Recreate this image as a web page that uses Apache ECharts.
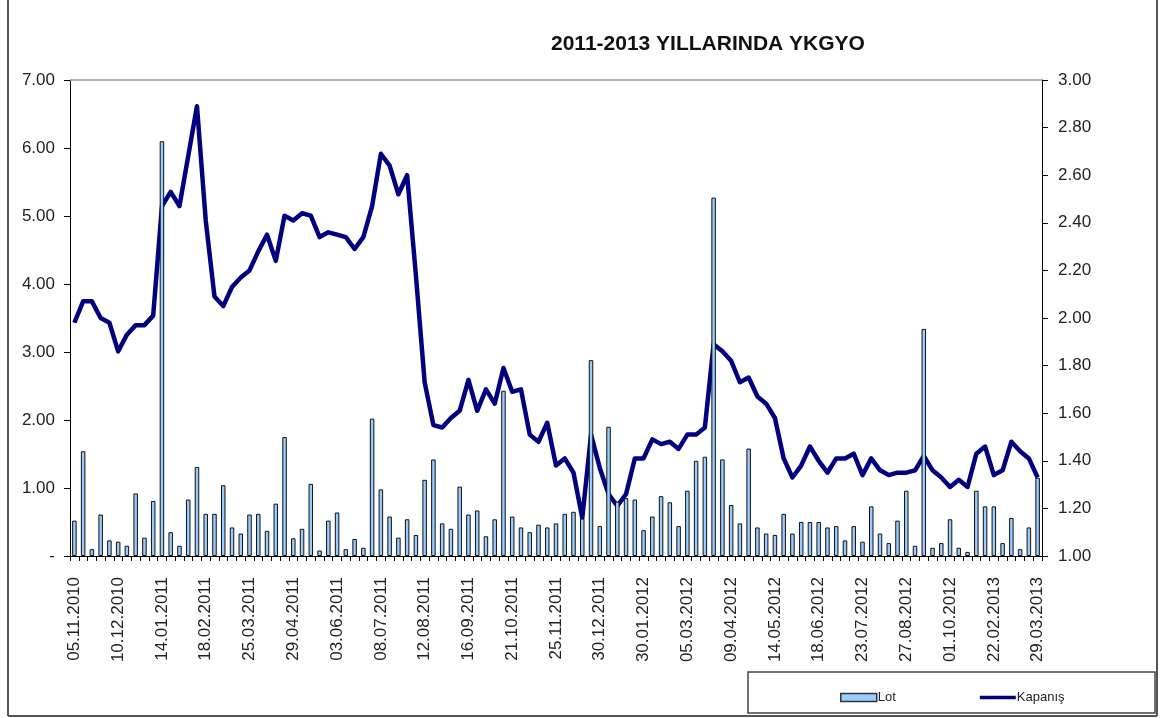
<!DOCTYPE html>
<html>
<head>
<meta charset="utf-8">
<script src="https://cdn.jsdelivr.net/npm/echarts@6/dist/echarts.min.js"></script>
<style>
  html, body { margin: 0; padding: 0; background: #fff; }
  #chart { width: 1166px; height: 718px; }
</style>
</head>
<body>
<div id="chart"></div>
<script>
// weekly dates, three runs (the source skips some weeks)
function weekly(d, m, y, n) {
  var out = [];
  var t0 = Date.UTC(y, m - 1, d);
  for (var i = 0; i < n; i++) {
    var dt = new Date(t0 + i * 7 * 86400000);
    var dd = ('0' + dt.getUTCDate()).slice(-2);
    var mm = ('0' + (dt.getUTCMonth() + 1)).slice(-2);
    out.push(dd + '.' + mm + '.' + dt.getUTCFullYear());
  }
  return out;
}
const dates = [].concat(
  weekly(5, 11, 2010, 61),
  weekly(2, 1, 2012, 40),
  weekly(25, 1, 2013, 10)
);

// Lot (left axis)
const lot = [
  0.52, 1.54, 0.10, 0.61, 0.23, 0.21, 0.15, 0.92, 0.27, 0.81,
  6.10, 0.35, 0.15, 0.83, 1.31, 0.62, 0.62, 1.04, 0.42, 0.33,
  0.61, 0.62, 0.37, 0.77, 1.75, 0.26, 0.40, 1.06, 0.08, 0.52,
  0.64, 0.10, 0.25, 0.12, 2.02, 0.98, 0.58, 0.27, 0.54, 0.31,
  1.12, 1.42, 0.48, 0.40, 1.02, 0.61, 0.67, 0.29, 0.54, 2.43,
  0.58, 0.42, 0.35, 0.46, 0.42, 0.48, 0.62, 0.65, 0.55, 2.88,
  0.44, 1.90, 0.80, 0.85, 0.83, 0.38, 0.58, 0.88, 0.79, 0.44,
  0.96, 1.40, 1.46, 5.27, 1.42, 0.75, 0.48, 1.58, 0.42, 0.33,
  0.31, 0.62, 0.33, 0.50, 0.50, 0.50, 0.42, 0.44, 0.23, 0.44,
  0.21, 0.73, 0.33, 0.19, 0.52, 0.96, 0.15, 3.34, 0.12, 0.19,
  0.54, 0.12, 0.06, 0.96, 0.73, 0.73, 0.19, 0.56, 0.10, 0.42,
  1.15
];

// Kapanış (right axis)
const kapanis = [
  1.98, 2.07, 2.07, 2.00, 1.98, 1.86, 1.93, 1.97, 1.97, 2.01,
  2.47, 2.53, 2.47, 2.68, 2.89, 2.41, 2.09, 2.05, 2.13, 2.17,
  2.20, 2.28, 2.35, 2.24, 2.43, 2.41, 2.44, 2.43, 2.34, 2.36,
  2.35, 2.34, 2.29, 2.34, 2.47, 2.69, 2.64, 2.52, 2.60, 2.18,
  1.73, 1.55, 1.54, 1.58, 1.61, 1.74, 1.61, 1.70, 1.64, 1.79,
  1.69, 1.70, 1.51, 1.48, 1.56, 1.38, 1.41, 1.35, 1.16, 1.51,
  1.37, 1.26, 1.21, 1.26, 1.41, 1.41, 1.49, 1.47, 1.48, 1.45,
  1.51, 1.51, 1.54, 1.89, 1.86, 1.82, 1.73, 1.75, 1.67, 1.64,
  1.58, 1.41, 1.33, 1.38, 1.46, 1.40, 1.35, 1.41, 1.41, 1.43,
  1.34, 1.41, 1.36, 1.34, 1.35, 1.35, 1.36, 1.42, 1.36, 1.33,
  1.29, 1.32, 1.29, 1.43, 1.46, 1.34, 1.36, 1.48, 1.44, 1.41,
  1.33
];

const leftTicks = { min: 0, max: 7, interval: 1 };
const rightTicks = { min: 1, max: 3, interval: 0.2 };

var myChart = echarts.init(document.getElementById('chart'));
var font = 'Liberation Sans, Arial, sans-serif';
var textColor = '#222';

var option = {
  animation: false,
  textStyle: { fontFamily: font },
  title: {
    text: '2011-2013 YILLARINDA YKGYO',
    left: 546,
    top: 29,
    textStyle: { fontSize: 21, fontWeight: 'bold', color: '#111', fontFamily: font }
  },
  grid: { left: 70, right: 124, top: 80, bottom: 162 },
  legend: {
    left: 835,
    top: 686,
    itemGap: 84,
    itemWidth: 36,
    itemHeight: 8,
    textStyle: { fontSize: 13, color: textColor, fontFamily: font, padding: [0, 0, 0, -4] },
    data: [
      { name: 'Lot', icon: 'rect', itemStyle: { color: '#99CCFF', borderColor: '#333', borderWidth: 1.5 } },
      { name: 'Kapanış', icon: 'path://M0,0 L40,0 L40,4 L0,4 Z', itemStyle: { color: '#000080', borderWidth: 0 } }
    ]
  },
  xAxis: {
    type: 'category',
    data: dates,
    boundaryGap: true,
    axisLine: { lineStyle: { color: '#000', width: 1 } },
    axisTick: { show: true, interval: 0, length: 5, lineStyle: { color: '#000' } },
    axisLabel: {
      interval: 4,
      rotate: 90,
      margin: 21,
      fontSize: 17,
      color: textColor,
      fontFamily: font
    },
    splitLine: { show: false }
  },
  yAxis: [
    {
      type: 'value',
      min: leftTicks.min,
      max: leftTicks.max,
      interval: leftTicks.interval,
      axisLine: { show: true, lineStyle: { color: '#000', width: 1 } },
      axisTick: { show: true, length: 6, lineStyle: { color: '#000' } },
      axisLabel: {
        margin: 15,
        fontSize: 17,
        color: textColor,
        fontFamily: font,
        formatter: function (v) { return v === 0 ? '-' : v.toFixed(2); }
      },
      splitLine: { show: false }
    },
    {
      type: 'value',
      position: 'right',
      min: rightTicks.min,
      max: rightTicks.max,
      interval: rightTicks.interval,
      axisLine: { show: true, lineStyle: { color: '#000', width: 1 } },
      axisTick: { show: true, length: 6, lineStyle: { color: '#000' } },
      axisLabel: {
        margin: 16,
        fontSize: 17,
        color: textColor,
        fontFamily: font,
        formatter: function (v) { return v.toFixed(2); }
      },
      splitLine: { show: false }
    }
  ],
  graphic: [
    // top border of plot area
    { type: 'line', shape: { x1: 70, y1: 80, x2: 1042, y2: 80 }, style: { stroke: '#999', lineWidth: 1.5 }, z: 1 },
    // outer frame sides and bottom
    { type: 'line', shape: { x1: 8, y1: 0, x2: 8, y2: 716 }, style: { stroke: '#555', lineWidth: 2 } },
    { type: 'line', shape: { x1: 1157, y1: 0, x2: 1157, y2: 716 }, style: { stroke: '#555', lineWidth: 2 } },
    { type: 'line', shape: { x1: 8, y1: 716, x2: 1157, y2: 716 }, style: { stroke: '#555', lineWidth: 2 } },
    // legend box
    { type: 'rect', shape: { x: 748, y: 672, width: 407, height: 41 }, style: { fill: '#fff', stroke: '#444', lineWidth: 1.5 }, z: -1 }
  ],
  series: [
    {
      name: 'Kapanış',
      type: 'line',
      yAxisIndex: 1,
      data: kapanis,
      symbol: 'none',
      lineStyle: { color: '#000080', width: 4.5, join: 'round' },
      itemStyle: { color: '#000080' },
      z: 2
    },
    {
      name: 'Lot',
      type: 'bar',
      yAxisIndex: 0,
      data: lot,
      barWidth: 4.5,
      itemStyle: { color: '#99CCFF', borderColor: '#111', borderWidth: 1 },
      z: 3
    }
  ]
};

option && myChart.setOption(option);
</script>
</body>
</html>
